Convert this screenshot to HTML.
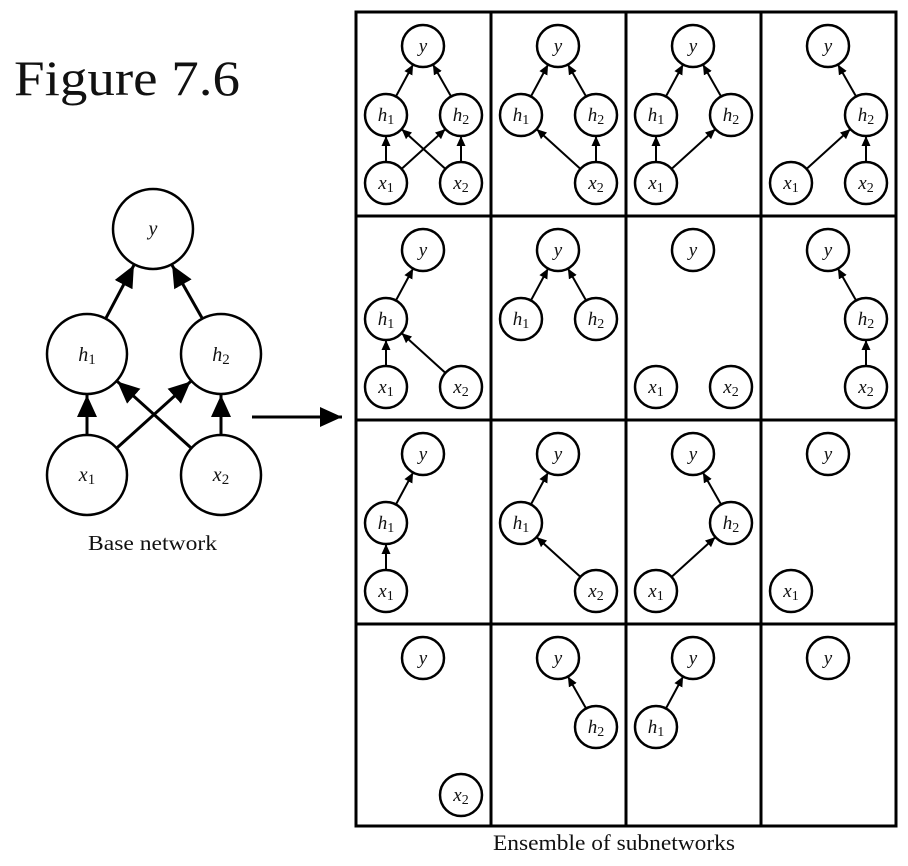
<!DOCTYPE html>
<html><head><meta charset="utf-8"><style>
html,body{margin:0;padding:0;background:#fff;}
svg{display:block;}
text{font-family:"Liberation Serif",serif;fill:#111;}
.n{font-style:italic;}
.s{font-style:normal;}
</style></head><body>
<svg width="908" height="866" viewBox="0 0 908 866" xmlns="http://www.w3.org/2000/svg">
<defs>
<marker id="big" markerUnits="userSpaceOnUse" markerWidth="24" markerHeight="22" refX="22" refY="10" orient="auto" viewBox="0 0 24 20">
<path d="M0,0 L22,10 L0,20 z" fill="#000"/></marker>
<marker id="sm" markerUnits="userSpaceOnUse" markerWidth="11" markerHeight="10" refX="10" refY="4.5" orient="auto" viewBox="0 0 11 9">
<path d="M0,0 L10,4.5 L0,9 z" fill="#000"/></marker>
</defs>
<text x="14" y="95" font-size="50" textLength="226" lengthAdjust="spacingAndGlyphs">Figure 7.6</text>

<!-- Base network -->
<g stroke="#000" stroke-width="3" fill="none">
<line x1="106.1" y1="317.8" x2="133.9" y2="265.2" marker-end="url(#big)"/>
<line x1="201.9" y1="317.8" x2="172.1" y2="265.2" marker-end="url(#big)"/>
<line x1="87" y1="434" x2="87" y2="395" marker-end="url(#big)"/>
<line x1="221" y1="434" x2="221" y2="395" marker-end="url(#big)"/>
<line x1="117.4" y1="447.5" x2="190.6" y2="381.5" marker-end="url(#big)"/>
<line x1="190.6" y1="447.5" x2="117.4" y2="381.5" marker-end="url(#big)"/>
<circle cx="153" cy="229" r="40" stroke-width="2.5"/>
<circle cx="87" cy="354" r="40" stroke-width="2.5"/>
<circle cx="221" cy="354" r="40" stroke-width="2.5"/>
<circle cx="87" cy="475" r="40" stroke-width="2.5"/>
<circle cx="221" cy="475" r="40" stroke-width="2.5"/>
<line x1="252" y1="417" x2="342" y2="417" marker-end="url(#big)"/>
</g>
<g font-size="20" text-anchor="middle">
<text class="n" x="153" y="235">y</text>
<text class="n" x="87" y="361">h<tspan class="s" font-size="15" dy="3">1</tspan></text>
<text class="n" x="221" y="361">h<tspan class="s" font-size="15" dy="3">2</tspan></text>
<text class="n" x="87" y="481">x<tspan class="s" font-size="15" dy="3">1</tspan></text>
<text class="n" x="221" y="481">x<tspan class="s" font-size="15" dy="3">2</tspan></text>
</g>
<text x="88" y="550" font-size="21" textLength="129" lengthAdjust="spacingAndGlyphs">Base network</text>

<!-- Grid -->
<g stroke="#000" fill="none">
<rect x="356" y="12" width="540" height="814" stroke-width="3"/>
<line x1="491" y1="12" x2="491" y2="826" stroke-width="3"/>
<line x1="626" y1="12" x2="626" y2="826" stroke-width="3"/>
<line x1="761" y1="12" x2="761" y2="826" stroke-width="3"/>
<line x1="356" y1="216" x2="896" y2="216" stroke-width="3"/>
<line x1="356" y1="420" x2="896" y2="420" stroke-width="3"/>
<line x1="356" y1="624" x2="896" y2="624" stroke-width="3"/>
</g>
<text x="493" y="850" font-size="22" textLength="242" lengthAdjust="spacingAndGlyphs">Ensemble of subnetworks</text>

<!-- Row 1 -->
<g transform="translate(356,12)">
<g stroke="#000" stroke-width="2" fill="none">
<line x1="39.9" y1="84.5" x2="57.1" y2="52.5" marker-end="url(#sm)"/>
<line x1="95.1" y1="84.5" x2="76.9" y2="52.5" marker-end="url(#sm)"/>
<line x1="30" y1="150" x2="30" y2="124" marker-end="url(#sm)"/>
<line x1="105" y1="150" x2="105" y2="124" marker-end="url(#sm)"/>
<line x1="45.6" y1="156.9" x2="89.4" y2="117.1" marker-end="url(#sm)"/>
<line x1="89.4" y1="156.9" x2="45.6" y2="117.1" marker-end="url(#sm)"/>
<circle cx="67" cy="34" r="21" stroke-width="2.5"/><circle cx="30" cy="103" r="21" stroke-width="2.5"/><circle cx="105" cy="103" r="21" stroke-width="2.5"/><circle cx="30" cy="171" r="21" stroke-width="2.5"/><circle cx="105" cy="171" r="21" stroke-width="2.5"/>
</g>
<g font-size="19" text-anchor="middle"><text class="n" x="67" y="40">y</text><text class="n" x="30" y="109">h<tspan class="s" font-size="14" dy="3">1</tspan></text><text class="n" x="105" y="109">h<tspan class="s" font-size="14" dy="3">2</tspan></text><text class="n" x="30" y="177">x<tspan class="s" font-size="14" dy="3">1</tspan></text><text class="n" x="105" y="177">x<tspan class="s" font-size="14" dy="3">2</tspan></text></g>
</g>

<g transform="translate(491,12)">
<g stroke="#000" stroke-width="2" fill="none">
<line x1="39.9" y1="84.5" x2="57.1" y2="52.5" marker-end="url(#sm)"/>
<line x1="95.1" y1="84.5" x2="76.9" y2="52.5" marker-end="url(#sm)"/>
<line x1="105" y1="150" x2="105" y2="124" marker-end="url(#sm)"/>
<line x1="89.4" y1="156.9" x2="45.6" y2="117.1" marker-end="url(#sm)"/>
<circle cx="67" cy="34" r="21" stroke-width="2.5"/><circle cx="30" cy="103" r="21" stroke-width="2.5"/><circle cx="105" cy="103" r="21" stroke-width="2.5"/><circle cx="105" cy="171" r="21" stroke-width="2.5"/>
</g>
<g font-size="19" text-anchor="middle"><text class="n" x="67" y="40">y</text><text class="n" x="30" y="109">h<tspan class="s" font-size="14" dy="3">1</tspan></text><text class="n" x="105" y="109">h<tspan class="s" font-size="14" dy="3">2</tspan></text><text class="n" x="105" y="177">x<tspan class="s" font-size="14" dy="3">2</tspan></text></g>
</g>

<g transform="translate(626,12)">
<g stroke="#000" stroke-width="2" fill="none">
<line x1="39.9" y1="84.5" x2="57.1" y2="52.5" marker-end="url(#sm)"/>
<line x1="95.1" y1="84.5" x2="76.9" y2="52.5" marker-end="url(#sm)"/>
<line x1="30" y1="150" x2="30" y2="124" marker-end="url(#sm)"/>
<line x1="45.6" y1="156.9" x2="89.4" y2="117.1" marker-end="url(#sm)"/>
<circle cx="67" cy="34" r="21" stroke-width="2.5"/><circle cx="30" cy="103" r="21" stroke-width="2.5"/><circle cx="105" cy="103" r="21" stroke-width="2.5"/><circle cx="30" cy="171" r="21" stroke-width="2.5"/>
</g>
<g font-size="19" text-anchor="middle"><text class="n" x="67" y="40">y</text><text class="n" x="30" y="109">h<tspan class="s" font-size="14" dy="3">1</tspan></text><text class="n" x="105" y="109">h<tspan class="s" font-size="14" dy="3">2</tspan></text><text class="n" x="30" y="177">x<tspan class="s" font-size="14" dy="3">1</tspan></text></g>
</g>

<g transform="translate(761,12)">
<g stroke="#000" stroke-width="2" fill="none">
<line x1="95.1" y1="84.5" x2="76.9" y2="52.5" marker-end="url(#sm)"/>
<line x1="105" y1="150" x2="105" y2="124" marker-end="url(#sm)"/>
<line x1="45.6" y1="156.9" x2="89.4" y2="117.1" marker-end="url(#sm)"/>
<circle cx="67" cy="34" r="21" stroke-width="2.5"/><circle cx="105" cy="103" r="21" stroke-width="2.5"/><circle cx="30" cy="171" r="21" stroke-width="2.5"/><circle cx="105" cy="171" r="21" stroke-width="2.5"/>
</g>
<g font-size="19" text-anchor="middle"><text class="n" x="67" y="40">y</text><text class="n" x="105" y="109">h<tspan class="s" font-size="14" dy="3">2</tspan></text><text class="n" x="30" y="177">x<tspan class="s" font-size="14" dy="3">1</tspan></text><text class="n" x="105" y="177">x<tspan class="s" font-size="14" dy="3">2</tspan></text></g>
</g>

<!-- Row 2 -->
<g transform="translate(356,216)">
<g stroke="#000" stroke-width="2" fill="none">
<line x1="39.9" y1="84.5" x2="57.1" y2="52.5" marker-end="url(#sm)"/>
<line x1="30" y1="150" x2="30" y2="124" marker-end="url(#sm)"/>
<line x1="89.4" y1="156.9" x2="45.6" y2="117.1" marker-end="url(#sm)"/>
<circle cx="67" cy="34" r="21" stroke-width="2.5"/><circle cx="30" cy="103" r="21" stroke-width="2.5"/><circle cx="30" cy="171" r="21" stroke-width="2.5"/><circle cx="105" cy="171" r="21" stroke-width="2.5"/>
</g>
<g font-size="19" text-anchor="middle"><text class="n" x="67" y="40">y</text><text class="n" x="30" y="109">h<tspan class="s" font-size="14" dy="3">1</tspan></text><text class="n" x="30" y="177">x<tspan class="s" font-size="14" dy="3">1</tspan></text><text class="n" x="105" y="177">x<tspan class="s" font-size="14" dy="3">2</tspan></text></g>
</g>

<g transform="translate(491,216)">
<g stroke="#000" stroke-width="2" fill="none">
<line x1="39.9" y1="84.5" x2="57.1" y2="52.5" marker-end="url(#sm)"/>
<line x1="95.1" y1="84.5" x2="76.9" y2="52.5" marker-end="url(#sm)"/>
<circle cx="67" cy="34" r="21" stroke-width="2.5"/><circle cx="30" cy="103" r="21" stroke-width="2.5"/><circle cx="105" cy="103" r="21" stroke-width="2.5"/>
</g>
<g font-size="19" text-anchor="middle"><text class="n" x="67" y="40">y</text><text class="n" x="30" y="109">h<tspan class="s" font-size="14" dy="3">1</tspan></text><text class="n" x="105" y="109">h<tspan class="s" font-size="14" dy="3">2</tspan></text></g>
</g>

<g transform="translate(626,216)">
<g stroke="#000" stroke-width="2.5" fill="none">
<circle cx="67" cy="34" r="21"/><circle cx="30" cy="171" r="21"/><circle cx="105" cy="171" r="21"/>
</g>
<g font-size="19" text-anchor="middle"><text class="n" x="67" y="40">y</text><text class="n" x="30" y="177">x<tspan class="s" font-size="14" dy="3">1</tspan></text><text class="n" x="105" y="177">x<tspan class="s" font-size="14" dy="3">2</tspan></text></g>
</g>

<g transform="translate(761,216)">
<g stroke="#000" stroke-width="2" fill="none">
<line x1="95.1" y1="84.5" x2="76.9" y2="52.5" marker-end="url(#sm)"/>
<line x1="105" y1="150" x2="105" y2="124" marker-end="url(#sm)"/>
<circle cx="67" cy="34" r="21" stroke-width="2.5"/><circle cx="105" cy="103" r="21" stroke-width="2.5"/><circle cx="105" cy="171" r="21" stroke-width="2.5"/>
</g>
<g font-size="19" text-anchor="middle"><text class="n" x="67" y="40">y</text><text class="n" x="105" y="109">h<tspan class="s" font-size="14" dy="3">2</tspan></text><text class="n" x="105" y="177">x<tspan class="s" font-size="14" dy="3">2</tspan></text></g>
</g>

<!-- Row 3 -->
<g transform="translate(356,420)">
<g stroke="#000" stroke-width="2" fill="none">
<line x1="39.9" y1="84.5" x2="57.1" y2="52.5" marker-end="url(#sm)"/>
<line x1="30" y1="150" x2="30" y2="124" marker-end="url(#sm)"/>
<circle cx="67" cy="34" r="21" stroke-width="2.5"/><circle cx="30" cy="103" r="21" stroke-width="2.5"/><circle cx="30" cy="171" r="21" stroke-width="2.5"/>
</g>
<g font-size="19" text-anchor="middle"><text class="n" x="67" y="40">y</text><text class="n" x="30" y="109">h<tspan class="s" font-size="14" dy="3">1</tspan></text><text class="n" x="30" y="177">x<tspan class="s" font-size="14" dy="3">1</tspan></text></g>
</g>

<g transform="translate(491,420)">
<g stroke="#000" stroke-width="2" fill="none">
<line x1="39.9" y1="84.5" x2="57.1" y2="52.5" marker-end="url(#sm)"/>
<line x1="89.4" y1="156.9" x2="45.6" y2="117.1" marker-end="url(#sm)"/>
<circle cx="67" cy="34" r="21" stroke-width="2.5"/><circle cx="30" cy="103" r="21" stroke-width="2.5"/><circle cx="105" cy="171" r="21" stroke-width="2.5"/>
</g>
<g font-size="19" text-anchor="middle"><text class="n" x="67" y="40">y</text><text class="n" x="30" y="109">h<tspan class="s" font-size="14" dy="3">1</tspan></text><text class="n" x="105" y="177">x<tspan class="s" font-size="14" dy="3">2</tspan></text></g>
</g>

<g transform="translate(626,420)">
<g stroke="#000" stroke-width="2" fill="none">
<line x1="95.1" y1="84.5" x2="76.9" y2="52.5" marker-end="url(#sm)"/>
<line x1="45.6" y1="156.9" x2="89.4" y2="117.1" marker-end="url(#sm)"/>
<circle cx="67" cy="34" r="21" stroke-width="2.5"/><circle cx="105" cy="103" r="21" stroke-width="2.5"/><circle cx="30" cy="171" r="21" stroke-width="2.5"/>
</g>
<g font-size="19" text-anchor="middle"><text class="n" x="67" y="40">y</text><text class="n" x="105" y="109">h<tspan class="s" font-size="14" dy="3">2</tspan></text><text class="n" x="30" y="177">x<tspan class="s" font-size="14" dy="3">1</tspan></text></g>
</g>

<g transform="translate(761,420)">
<g stroke="#000" stroke-width="2.5" fill="none">
<circle cx="67" cy="34" r="21"/><circle cx="30" cy="171" r="21"/>
</g>
<g font-size="19" text-anchor="middle"><text class="n" x="67" y="40">y</text><text class="n" x="30" y="177">x<tspan class="s" font-size="14" dy="3">1</tspan></text></g>
</g>

<!-- Row 4 -->
<g transform="translate(356,624)">
<g stroke="#000" stroke-width="2.5" fill="none">
<circle cx="67" cy="34" r="21"/><circle cx="105" cy="171" r="21"/>
</g>
<g font-size="19" text-anchor="middle"><text class="n" x="67" y="40">y</text><text class="n" x="105" y="177">x<tspan class="s" font-size="14" dy="3">2</tspan></text></g>
</g>

<g transform="translate(491,624)">
<g stroke="#000" stroke-width="2" fill="none">
<line x1="95.1" y1="84.5" x2="76.9" y2="52.5" marker-end="url(#sm)"/>
<circle cx="67" cy="34" r="21" stroke-width="2.5"/><circle cx="105" cy="103" r="21" stroke-width="2.5"/>
</g>
<g font-size="19" text-anchor="middle"><text class="n" x="67" y="40">y</text><text class="n" x="105" y="109">h<tspan class="s" font-size="14" dy="3">2</tspan></text></g>
</g>

<g transform="translate(626,624)">
<g stroke="#000" stroke-width="2" fill="none">
<line x1="39.9" y1="84.5" x2="57.1" y2="52.5" marker-end="url(#sm)"/>
<circle cx="67" cy="34" r="21" stroke-width="2.5"/><circle cx="30" cy="103" r="21" stroke-width="2.5"/>
</g>
<g font-size="19" text-anchor="middle"><text class="n" x="67" y="40">y</text><text class="n" x="30" y="109">h<tspan class="s" font-size="14" dy="3">1</tspan></text></g>
</g>

<g transform="translate(761,624)">
<circle cx="67" cy="34" r="21" stroke="#000" stroke-width="2.5" fill="none"/>
<text class="n" x="67" y="40" font-size="19" text-anchor="middle">y</text>
</g>
</svg>
</body></html>
